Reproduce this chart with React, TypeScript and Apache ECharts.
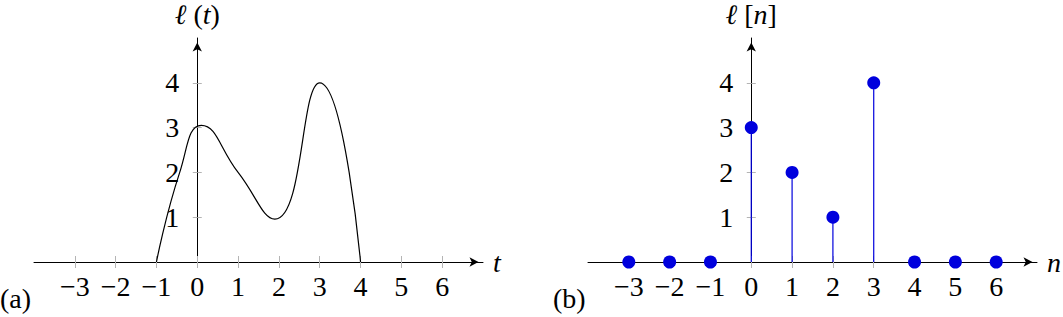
import React, { useEffect, useRef } from "react";
import * as echarts from "echarts";

// ---- data ----
const tTicks = [-3, -2, -1, 0, 1, 2, 3, 4, 5, 6];
const yTicks = [1, 2, 3, 4];
const tCurve = [-1, -0.43, 0.1, 1, 1.9, 3, 4];
const lCurve = [0, 2, 3.05, 2, 0.955, 4, 0];
// discrete samples l[n]
const nIndex = [-3, -2, -1, 0, 1, 2, 3, 4, 5, 6];
const lN = [0, 0, 0, 3, 2, 1, 4, 0, 0, 0];
const xRange = [-4, 7];
const yRange = [0, 5];

const FONT = "'Liberation Serif', 'Times New Roman', serif";
const BLUE = "#0000dd";
const TICK = "#b4b4b4";
const FS = 28;

const GRID_W = 449;
const GRID_H = 224;
const GRID_TOP = 38;
const GRID_LEFTS = [34, 588];
// shift of the vertical axis from the grid's left edge to x = 0
const Y_SHIFT = (GRID_W * (0 - xRange[0])) / (xRange[1] - xRange[0]);

const fmt = (v: number) => (v < 0 ? "\u2212" + -v : String(v));

function mainX(grid: number, name: string) {
  return {
    type: "value",
    gridIndex: grid,
    position: "bottom",
    min: xRange[0],
    max: xRange[1],
    axisLine: {
      onZero: false,
      lineStyle: { color: "#000", width: 1 },
      symbol: ["none", "arrow"],
      symbolSize: [7, 9],
      symbolOffset: [0, -4.5],
    },
    axisTick: { show: true, customValues: tTicks, length: 6, lineStyle: { color: TICK, width: 1 } },
    axisLabel: {
      customValues: tTicks,
      formatter: fmt,
      fontFamily: FONT,
      fontSize: FS,
      color: "#000",
      margin: 10,
    },
    splitLine: { show: false },
    name,
    nameLocation: "end",
    nameGap: 10,
    nameTextStyle: { fontFamily: FONT, fontSize: FS, fontStyle: "italic", color: "#000" },
  };
}

function secX(grid: number) {
  return {
    type: "value",
    gridIndex: grid,
    position: "bottom",
    min: xRange[0],
    max: xRange[1],
    axisLine: { show: false, onZero: false },
    axisTick: { show: true, inside: true, customValues: tTicks, length: 6, lineStyle: { color: TICK, width: 1 } },
    axisLabel: { show: false },
    splitLine: { show: false },
  };
}

function mainY(grid: number, varName: string, open: string, close: string) {
  return {
    type: "value",
    gridIndex: grid,
    min: yRange[0],
    max: yRange[1],
    position: "left",
    offset: -Y_SHIFT,
    axisLine: {
      onZero: false,
      lineStyle: { color: "#000", width: 1 },
      symbol: ["none", "arrow"],
      symbolSize: [7, 9],
      symbolOffset: [0, -4.5],
    },
    axisTick: { show: true, customValues: yTicks, length: 4.5, lineStyle: { color: TICK, width: 1 } },
    axisLabel: {
      customValues: yTicks,
      formatter: fmt,
      fontFamily: FONT,
      fontSize: FS,
      color: "#000",
      margin: 18,
    },
    splitLine: { show: false },
    name: "{i|\u2113\u00a0}{u|" + open + "}{i|" + varName + "}{u|" + close + "}",
    nameLocation: "end",
    nameGap: 10,
    nameTextStyle: {
      rich: {
        u: { fontFamily: FONT, fontSize: FS, color: "#000" },
        i: { fontFamily: FONT, fontSize: FS, fontStyle: "italic", color: "#000" },
      },
    },
  };
}

function secY(grid: number) {
  return {
    type: "value",
    gridIndex: grid,
    min: yRange[0],
    max: yRange[1],
    position: "left",
    offset: -Y_SHIFT,
    axisLine: { show: false, onZero: false },
    axisTick: { show: true, inside: true, customValues: yTicks, length: 4.5, lineStyle: { color: TICK, width: 1 } },
    axisLabel: { show: false },
    splitLine: { show: false },
  };
}

export default function App() {
  const ref = useRef<HTMLDivElement>(null);
  useEffect(() => {
    if (!ref.current) return;
    const chart = echarts.init(ref.current, null, { renderer: "svg" });
    chart.setOption({
      animation: false,
      backgroundColor: "#fff",
      grid: GRID_LEFTS.map((left) => ({
        left,
        width: GRID_W,
        top: GRID_TOP,
        height: GRID_H,
        containLabel: false,
        outerBoundsMode: "none",
      })),
      xAxis: [mainX(0, "t"), secX(0), mainX(1, "n"), secX(1)],
      yAxis: [mainY(0, "t", "(", ")"), secY(0), mainY(1, "n", "[", "]"), secY(1)],
      graphic: [
        { type: "text", left: 0, top: 284, style: { text: "(a)", fontFamily: FONT, fontSize: FS, fill: "#000" } },
        { type: "text", left: 553, top: 284, style: { text: "(b)", fontFamily: FONT, fontSize: FS, fill: "#000" } },
      ],
      series: [
        {
          type: "line",
          xAxisIndex: 0,
          yAxisIndex: 0,
          data: tCurve.map((t, i) => [t, lCurve[i]]),
          smooth: 0.5,
          showSymbol: false,
          lineStyle: { color: "#000", width: 1.2 },
          z: 5,
        },
        {
          type: "bar",
          xAxisIndex: 2,
          yAxisIndex: 2,
          data: nIndex.map((n, i) => [n, lN[i]]),
          barWidth: 1.2,
          itemStyle: { color: BLUE },
          z: 5,
        },
        {
          type: "scatter",
          xAxisIndex: 2,
          yAxisIndex: 2,
          data: nIndex.map((n, i) => [n, lN[i]]),
          symbolSize: 13,
          itemStyle: { color: BLUE, opacity: 1 },
          z: 6,
        },
      ],
    });
    return () => chart.dispose();
  }, []);
  return (
    <div
      ref={ref}
      style={{ position: "absolute", left: 0, top: 0, width: 1063, height: 317 }}
    />
  );
}
